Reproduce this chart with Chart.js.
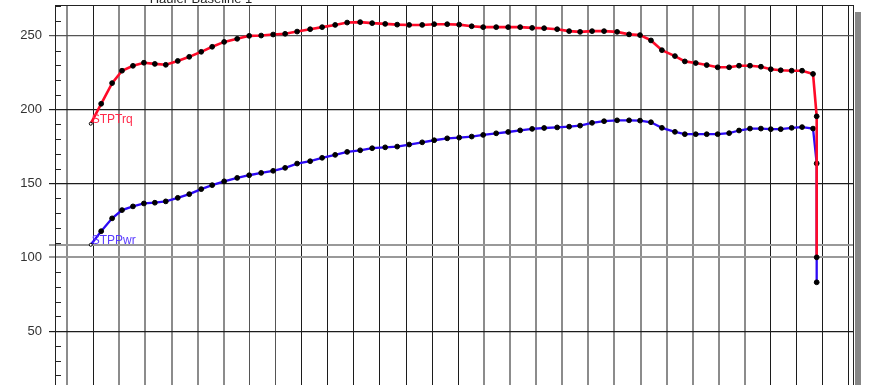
<!DOCTYPE html>
<html>
<head>
<meta charset="utf-8">
<script src="https://cdn.jsdelivr.net/npm/chart.js@4.4.1/dist/chart.umd.min.js"></script>
<style>
  body { margin: 0; background: #fff; }
  #marco { width: 880px; height: 385px; overflow: hidden; }
</style>
</head>
<body>
<div id="marco"><canvas id="grafico" width="880" height="410"></canvas></div>
<script>
const titulo = "Hauler Baseline 1";
const rpm = [2995, 3015, 3036, 3055, 3076, 3097, 3118, 3139, 3162, 3184, 3207, 3228, 3251, 3276, 3299, 3322, 3345,
  3368, 3391, 3416, 3439, 3464, 3487, 3512, 3535, 3560, 3583, 3606, 3631, 3654, 3679, 3702, 3726, 3748, 3773,
  3796, 3819, 3842, 3865, 3890, 3913, 3934, 3957, 3980, 4005, 4028, 4049, 4070, 4091, 4116, 4135, 4156, 4177,
  4198, 4220, 4239, 4260, 4281, 4300, 4319, 4340, 4360, 4381, 4388, 4388];
const torque = [190.5, 204, 218, 226.4, 229.7, 231.8, 231, 230.4, 233, 235.8, 239.2, 242.6, 245.9, 248, 250, 250.2, 250.9,
  251.4, 252.9, 254.5, 255.9, 257.4, 259, 259.3, 258.6, 258.1, 257.6, 257.4, 257.4, 257.9, 257.9, 257.6, 256.5, 255.9, 255.9,
  255.9, 255.9, 255.4, 255.2, 254.5, 253.2, 252.7, 253.2, 253.2, 252.7, 251, 250.5, 246.9, 240.3, 236.3, 232.7, 231.6, 230.2,
  228.7, 228.7, 229.8, 229.8, 229.1, 227.4, 226.7, 226.4, 226.4, 224.2, 195.5, 100];
const power = [108.5, 117.7, 126.4, 132, 134.5, 136.5, 137, 137.9, 140.3, 142.8, 146.2, 148.9, 151.5, 153.8, 155.6, 157.2, 158.6,
  160.6, 163.5, 165.1, 167.4, 169.4, 171.4, 172.5, 173.9, 174.5, 175, 176.4, 177.9, 179.3, 180.6, 181.1, 181.8, 182.9, 184,
  184.9, 186, 187, 187.6, 188, 188.5, 189.2, 191.1, 192.2, 192.8, 192.8, 192.6, 191.5, 187.7, 185, 183.4, 183.4, 183.4,
  183.4, 184.1, 185.9, 187.2, 187.2, 186.8, 186.8, 187.7, 188.2, 187.2, 163.6, 83.1];
const etiquetasSerie = ["STPTrq", "STPPwr"];
const ticksY = [0, 50, 100, 108.3, 150, 200, 250];
const ticksX = [];
for (let r = 2950; r <= 4450; r += 50) ticksX.push(r);

function colorVertical(v) {
  if (v === 3000 || (v >= 3400 && v <= 3700) || v >= 4300) return "#1c1c1c";
  if (v === 3300 || v === 3350) return "#555";
  return "#8c8c8c";
}
function anchoVertical(v) {
  return colorVertical(v) === "#8c8c8c" ? 2 : 1;
}
function colorHorizontal(v) {
  if (v === 100 || v === 108.3) return "#999";
  if (v === 250) return "#555";
  return "#1c1c1c";
}

const adornos = {
  id: "adornos",
  beforeDraw(chart) {
    const c = chart.ctx, a = chart.chartArea;
    c.save();
    c.fillStyle = "#888";
    c.fillRect(a.right + 1, a.top + 7, 6, a.bottom);
    c.restore();
  },
  afterDraw(chart) {
    const c = chart.ctx, a = chart.chartArea, y = chart.scales.y, x = chart.scales.x;
    c.save();
    c.strokeStyle = "#222";
    c.lineWidth = 1;
    c.strokeRect(a.left + 0.5, a.top + 0.5, a.right - a.left - 1, a.bottom - a.top);
    // marcas menores cada 10
    c.beginPath();
    for (let v = 10; v <= 270; v += 10) {
      if (v % 50 === 0) continue;
      const py = Math.round(y.getPixelForValue(v)) + 0.5;
      c.moveTo(a.left, py);
      c.lineTo(a.left + 6, py);
    }
    c.stroke();
    // etiquetas de series
    c.font = "12px 'Liberation Sans', Arial, sans-serif";
    c.textBaseline = "middle";
    c.fillStyle = "#ff2a4a";
    c.fillText(etiquetasSerie[0], x.getPixelForValue(rpm[0]) + 1, y.getPixelForValue(torque[0]) - 4);
    c.fillStyle = "#5a3cff";
    c.fillText(etiquetasSerie[1], x.getPixelForValue(rpm[0]) + 1, y.getPixelForValue(power[0]) - 4);
    // titulo
    c.font = "13px 'Liberation Sans', Arial, sans-serif";
    c.textBaseline = "alphabetic";
    c.textAlign = "center";
    c.fillStyle = "#222";
    c.fillText(titulo, 201, 3);
    c.restore();
  }
};

function serie(valores, color, ancho) {
  return {
    data: rpm.map((r, i) => ({ x: r, y: valores[i] })),
    borderColor: color,
    borderWidth: ancho,
    tension: 0,
    pointRadius: ctx => ctx.dataIndex === 0 ? 1.5 : 2.4,
    pointBackgroundColor: ctx => ctx.dataIndex === 0 ? "#fff" : "#000",
    pointBorderColor: "#000",
    pointBorderWidth: 1
  };
}

new Chart(document.getElementById("grafico"), {
  type: "line",
  data: {
    datasets: [
      serie(torque, "rgb(255,10,40)", 2.6),
      serie(power, "rgb(45,10,245)", 2.3)
    ]
  },
  options: {
    responsive: false,
    animation: false,
    devicePixelRatio: 1,
    layout: { padding: { top: 5, right: 26, left: 0, bottom: 2.6 } },
    plugins: { legend: { display: false }, tooltip: { enabled: false } },
    scales: {
      x: {
        type: "linear",
        min: 2926.4,
        max: 4459.6,
        afterBuildTicks: s => { s.ticks = ticksX.map(v => ({ value: v })); },
        afterFit: s => { s.height = 0; s.paddingLeft = 0; s.paddingRight = 0; },
        ticks: { display: false },
        border: { display: false },
        grid: {
          drawTicks: false,
          color: ctx => colorVertical(ctx.tick.value),
          lineWidth: ctx => anchoVertical(ctx.tick.value)
        }
      },
      y: {
        min: 0,
        max: 270.9,
        afterBuildTicks: s => { s.ticks = ticksY.map(v => ({ value: v })); },
        afterFit: s => { s.width = 55; s.paddingTop = 0; s.paddingBottom = 0; },
        border: { display: false },
        ticks: {
          padding: 7,
          color: "#333",
          font: { family: "'Liberation Sans', Arial, sans-serif", size: 13 },
          callback: v => (v % 50 === 0 && v > 0) ? String(v) : ""
        },
        grid: {
          tickLength: 6,
          color: ctx => colorHorizontal(ctx.tick.value),
          lineWidth: ctx => (ctx.tick.value === 100 || ctx.tick.value === 108.3) ? 2 : 1.2
        }
      }
    }
  },
  plugins: [adornos]
});
</script>
</body>
</html>
